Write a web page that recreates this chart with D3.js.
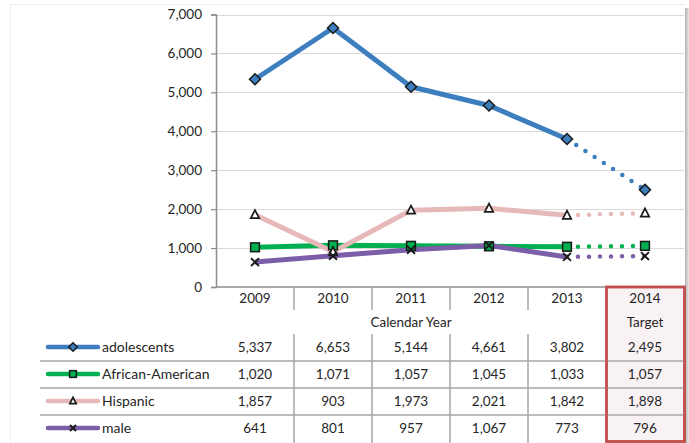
<!DOCTYPE html>
<html><head><meta charset="utf-8">
<script src="https://cdn.jsdelivr.net/npm/d3@7"></script>
<style>
html,body{margin:0;padding:0;background:#fff;}
svg{display:block;font-family:Lato,"Open Sans",sans-serif;}
</style></head>
<body><svg id="c" width="689" height="443"></svg>
<script>
const years = ["2009","2010","2011","2012","2013","2014"];
const subLabels = ["","","","","","Target"];
const axisTitle = "Calendar Year";
const seriesNames = ["adolescents","African-American","Hispanic","male"];
const adolescents = [5337,6653,5144,4661,3802,2495];
const africanAmerican = [1020,1071,1057,1045,1033,1057];
const hispanic = [1857,903,1973,2021,1842,1898];
const male = [641,801,957,1067,773,796];
const yTicks = [0,1000,2000,3000,4000,5000,6000,7000];

const seriesValues = [adolescents, africanAmerican, hispanic, male];
const colors = ["#3d7ebf","#00b050","#e6b8b7","#7b5ea7"];
const markers = ["diamond","square","triangle","x"];

const svg = d3.select("#c");
const L = 216, R = 684, T = 14.5, B = 287;
const x = d3.scaleBand().domain(years).range([L, R]);
const y = d3.scaleLinear().domain([0, 7000]).range([B, T]);
const cx = d => x(d) + x.bandwidth()/2;
const fmt = d3.format(",");

// frame
svg.append("line").attr("x1",10).attr("x2",685).attr("y1",4.5).attr("y2",4.5).attr("stroke","#eeeeee").attr("stroke-width",1);
svg.append("line").attr("x1",10.5).attr("x2",10.5).attr("y1",4).attr("y2",443).attr("stroke","#eeeeee").attr("stroke-width",1);
const grad = svg.append("defs").append("linearGradient").attr("id","sh").attr("x1","0").attr("x2","1");
grad.append("stop").attr("offset","0").attr("stop-color","#b0b0b0");
grad.append("stop").attr("offset","1").attr("stop-color","#e8e8e8");
svg.append("rect").attr("x",685).attr("y",8).attr("width",4).attr("height",435).attr("fill","url(#sh)");

// target box
svg.append("rect").attr("x",x("2014")+0.5).attr("y",B).attr("width",x.bandwidth()).attr("height",441.5-B)
  .attr("fill","#f9f2f4").attr("stroke","#c0504d").attr("stroke-width",2.5);

// gridlines
svg.append("g").selectAll("line").data(yTicks.filter(t=>t>0)).join("line")
  .attr("x1",L).attr("x2",R).attr("y1",d=>Math.round(y(d))+0.5).attr("y2",d=>Math.round(y(d))+0.5)
  .attr("stroke","#d9d9d9").attr("stroke-width",1.2);

// y axis
const ya = svg.append("g").attr("transform",`translate(${L},0)`)
  .call(d3.axisLeft(y).tickValues(yTicks).tickFormat(fmt).tickSize(5).tickPadding(9));
ya.select(".domain").attr("stroke","#8c8c8c").attr("stroke-width",1.5);
ya.selectAll(".tick line").attr("stroke","#8c8c8c").attr("stroke-width",1.2);
ya.selectAll("text").attr("font-size",13.5).attr("fill","#262626").attr("font-family","Lato");

// x axis line
svg.append("line").attr("x1",L).attr("x2",R).attr("y1",B).attr("y2",B).attr("stroke","#8c8c8c").attr("stroke-width",1.5);

// table vertical separators
const seps = years.slice(1,5);
svg.append("g").selectAll("line").data(seps).join("line")
  .attr("x1",d=>x(d)).attr("x2",d=>x(d)).attr("y1",B).attr("y2",310)
  .attr("stroke","#a6a6a6").attr("stroke-width",1.5);
svg.append("g").selectAll("line").data(seps).join("line")
  .attr("x1",d=>x(d)).attr("x2",d=>x(d)).attr("y1",334).attr("y2",443)
  .attr("stroke","#a6a6a6").attr("stroke-width",1.5);

// row separators
const rowY = [347, 374, 401, 428];
const sepY = [361, 388, 415];
svg.append("g").selectAll("line").data(sepY).join("line")
  .attr("x1",40).attr("x2",R).attr("y1",d=>d).attr("y2",d=>d)
  .attr("stroke","#a6a6a6").attr("stroke-width",1.5);
svg.append("rect").attr("x",x("2014")+0.5).attr("y",B).attr("width",x.bandwidth()).attr("height",441.5-B)
  .attr("fill","none").attr("stroke","#c0504d").attr("stroke-width",2.5);

// year labels
const txt = svg.append("g").attr("font-size",13.5).attr("fill","#262626").attr("text-anchor","middle");
txt.selectAll("text.yr").data(years).join("text").attr("class","yr")
  .attr("x",d=>cx(d)).attr("y",298).attr("dy","0.35em").text(d=>d);
txt.selectAll("text.sub").data(years.map((d,i)=>[d,subLabels[i]]).filter(d=>d[1])).join("text").attr("class","sub")
  .attr("x",d=>cx(d[0])).attr("y",322).attr("dy","0.35em").text(d=>d[1]);
txt.append("text").attr("x",(x("2009")+x("2014"))/2).attr("y",322).attr("dy","0.35em").text(axisTitle);

// data values in table
seriesValues.forEach((vals,si)=>{
  txt.selectAll("text.v"+si).data(vals).join("text").attr("class","v"+si)
    .attr("x",(d,i)=>cx(years[i])).attr("y",rowY[si]).attr("dy","0.35em").text(d=>fmt(d));
});

function drawMarker(g, type, color, px, py, s) {
  if (type==="diamond") {
    g.append("path").attr("d",`M${px},${py-s}L${px+s},${py}L${px},${py+s}L${px-s},${py}Z`)
      .attr("fill",color).attr("stroke","#1a1a1a").attr("stroke-width",1.5);
  } else if (type==="square") {
    const h = s*0.8;
    g.append("rect").attr("x",px-h).attr("y",py-h).attr("width",2*h).attr("height",2*h)
      .attr("fill",color).attr("stroke","#1a1a1a").attr("stroke-width",1.5);
  } else if (type==="triangle") {
    const h = s*0.85;
    g.append("path").attr("d",`M${px},${py-h}L${px+h*0.9},${py+h*0.75}L${px-h*0.9},${py+h*0.75}Z`)
      .attr("fill","#fff").attr("stroke","#1a1a1a").attr("stroke-width",1.7);
  } else {
    const h = s*0.72;
    g.append("path").attr("d",`M${px-h},${py-h}L${px+h},${py+h}M${px+h},${py-h}L${px-h},${py+h}`)
      .attr("stroke","#1a1a1a").attr("stroke-width",1.9).attr("fill","none");
  }
}

const line = d3.line().x(d=>cx(d[0])).y(d=>y(d[1]));
seriesValues.forEach((vals,si)=>{
  const pts = vals.map((v,i)=>[years[i],v]);
  const g = svg.append("g");
  g.append("path").attr("d",line(pts.slice(0,5))).attr("fill","none")
    .attr("stroke",colors[si]).attr("stroke-width",5).attr("stroke-linejoin","round").attr("stroke-linecap","butt");
  g.append("path").attr("d",line(pts.slice(4,6))).attr("fill","none")
    .attr("stroke",colors[si]).attr("stroke-width",4.5).attr("stroke-dasharray","0,11").attr("stroke-linecap","round");
});
seriesValues.forEach((vals,si)=>{
  const g = svg.append("g");
  vals.forEach((v,i)=>drawMarker(g, markers[si], colors[si], cx(years[i]), y(v), 5.5));
});

// legend
const lg = svg.append("g");
seriesNames.forEach((n,si)=>{
  const yy = rowY[si];
  lg.append("line").attr("x1",48).attr("x2",98).attr("y1",yy).attr("y2",yy)
    .attr("stroke",colors[si]).attr("stroke-width",4.5).attr("stroke-linecap","round");
  drawMarker(lg, markers[si], colors[si], 73, yy, 4.2);
  lg.append("text").attr("x",102).attr("y",yy).attr("dy","0.35em").attr("font-size",14).attr("fill","#262626").text(n);
});
</script></body></html>
